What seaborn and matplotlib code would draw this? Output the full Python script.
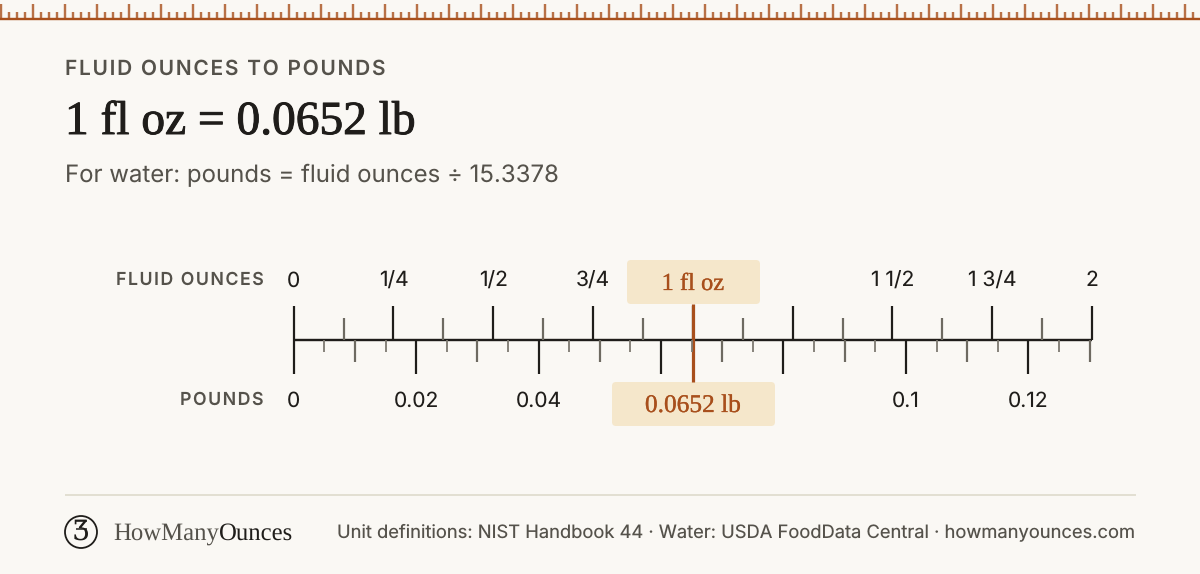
import numpy as np
import pandas as pd
import matplotlib
matplotlib.use("Agg")
import matplotlib.pyplot as plt
import matplotlib.patheffects as pe
from matplotlib.patches import FancyBboxPatch, Circle
import seaborn as sns

# values
oz_per_lb = 15.3378
oz_value = 1
lb_value = 0.0652

oz_major = [0, 0.25, 0.5, 0.75, 1, 1.25, 1.5, 1.75, 2]
oz_medium = [0.125, 0.375, 0.625, 0.875, 1.125, 1.375, 1.625, 1.875]
oz_label_pos = [0, 0.25, 0.5, 0.75, 1.5, 1.75, 2]
oz_labels = ["0", "1/4", "1/2", "3/4", "1 1/2", "1 3/4", "2"]

lb_major = [0, 0.02, 0.04, 0.06, 0.08, 0.1, 0.12]
lb_medium = [0.01, 0.03, 0.05, 0.07, 0.09, 0.11, 0.13]
lb_small = [0.005, 0.015, 0.025, 0.035, 0.045, 0.055, 0.065,
            0.075, 0.085, 0.095, 0.105, 0.115, 0.125]
lb_label_pos = [0, 0.02, 0.04, 0.1, 0.12]
lb_labels = ["0", "0.02", "0.04", "0.1", "0.12"]

BG = "#faf8f4"
INK = "#1f1d1a"
GREY = "#55524b"
TICK = "#6e6a61"
RUST = "#a84f1c"
CREAM = "#f5e7cb"
SANS = ["Inter", "DejaVu Sans"]
SERIF = ["Liberation Serif", "DejaVu Serif"]

sns.set_theme(style="white", rc={"figure.facecolor": BG, "savefig.facecolor": BG})
plt.rcParams["font.family"] = SANS
plt.rcParams["text.hinting"] = "no_hinting"

fig = plt.figure(figsize=(12, 5.74), dpi=100)

# page layer works in pixels
page = fig.add_axes([0, 0, 1, 1])
page.set_xlim(0, 1200)
page.set_ylim(574, 0)
page.axis("off")


def px(size):
    return size * 0.72


def spaced(s):
    return "\u200a".join(s)


# top ruler strip
strip = np.arange(0.5, 1200, 8)
page.vlines(strip[::4], 4, 18, color=RUST, lw=px(2.4), alpha=0.8)
page.vlines(np.delete(strip, np.arange(0, len(strip), 4)), 12, 18, color=RUST, lw=px(2.4), alpha=0.8)
page.hlines(18.6, 0, 1200, color=RUST, lw=px(2.4))

# header
page.text(65, 69, spaced("FLUID OUNCES TO POUNDS"), fontsize=px(20.9), fontweight=600,
          color=GREY, va="center")
page.text(65, 134, "1 fl oz = 0.0652 lb", fontsize=px(47.4), family=SERIF, color=INK,
          va="baseline", path_effects=[pe.withStroke(linewidth=0.7, foreground=INK)])
page.text(65, 175, "For water: pounds = fluid ounces ÷ 15.3378", fontsize=px(24),
          color=GREY, va="center")

# row labels
page.text(264, 280, spaced("FLUID OUNCES"), fontsize=px(17.8), fontweight=600, color=GREY,
          ha="right", va="center")
page.text(264, 400, spaced("POUNDS"), fontsize=px(17.8), fontweight=600, color=GREY,
          ha="right", va="center")

# callout boxes
for x0, x1, y0, y1 in [(627, 760, 260, 304), (612, 775, 382, 426)]:
    page.add_patch(FancyBboxPatch((x0 + 4, y0 + 4), x1 - x0 - 8, y1 - y0 - 8,
                                  boxstyle="round,pad=4,rounding_size=4",
                                  fc=CREAM, ec="none", zorder=1))

# double scale: same pixels, two units
ax = fig.add_axes([293.7 / 1200, 0, (1092 - 293.7) / 1200, 1])
ax.patch.set_alpha(0)
ax_lb = ax.twiny()
ax_lb.patch.set_alpha(0)

sns.lineplot(data=pd.DataFrame({"oz": [0, 2], "y": [340, 340]}), x="oz", y="y", ax=ax,
             color=INK, lw=px(2.4), zorder=3)
ax.vlines(oz_major, 306, 340, color=INK, lw=px(2.2), zorder=3, clip_on=False)
ax.vlines(oz_medium, 318, 340, color=TICK, lw=px(2.2), zorder=3)
ax_lb.vlines(lb_major, 340, 374, color=INK, lw=px(2.2), zorder=3, clip_on=False)
ax_lb.vlines(lb_medium, 340, 362, color=TICK, lw=px(2.2), zorder=3)
ax_lb.vlines(lb_small, 340, 352, color="#7d7970", lw=px(1.8), zorder=3)
ax.vlines([oz_value], 304, 382, color=RUST, lw=px(3.2), zorder=4)

for pos, lab in zip(oz_label_pos, oz_labels):
    ax.text(pos, 281, lab, fontsize=px(21), color=INK, ha="center", va="center")
for pos, lab in zip(lb_label_pos, lb_labels):
    ax_lb.text(pos, 401, lab, fontsize=px(21), color=INK, ha="center", va="center")

thin = [pe.withStroke(linewidth=0.2, foreground=RUST)]
ax.text(oz_value, 290, "1 fl oz", fontsize=px(24.5), family=SERIF, color=RUST, ha="center",
        va="baseline", path_effects=thin)
ax_lb.text(lb_value, 412, "0.0652 lb", fontsize=px(25.4), family=SERIF, color=RUST, ha="center",
           va="baseline", path_effects=thin)

for a, lim in [(ax, (0, 2)), (ax_lb, (0, 2 / oz_per_lb))]:
    a.set_xlim(*lim)
    a.set_ylim(574, 0)
    a.axis("off")

# footer
page.hlines(495, 65, 1136, color="#e2dfd2", lw=px(2))
page.add_patch(Circle((81, 532), 16, fc="none", ec=INK, lw=px(1.8)))
page.text(81, 532, "Ʒ", fontsize=px(28), family=["DejaVu Serif"], color=INK, ha="center", va="center")
page.hlines([521, 529], 75.5, 86.5, color=INK, lw=px(1.5))
t = page.text(113, 540, "HowMany", fontsize=px(24.8), family=SERIF, color=GREY, va="baseline")
fig.canvas.draw()
end = t.get_window_extent().x1
page.text(end, 540, "Ounces", fontsize=px(24.8), family=SERIF, color=INK, va="baseline")
page.text(1135, 532, "Unit definitions: NIST Handbook 44 · Water: USDA FoodData Central · howmanyounces.com",
          fontsize=px(18.33), color=GREY, ha="right", va="center")

fig.savefig("out.png", dpi=100)
